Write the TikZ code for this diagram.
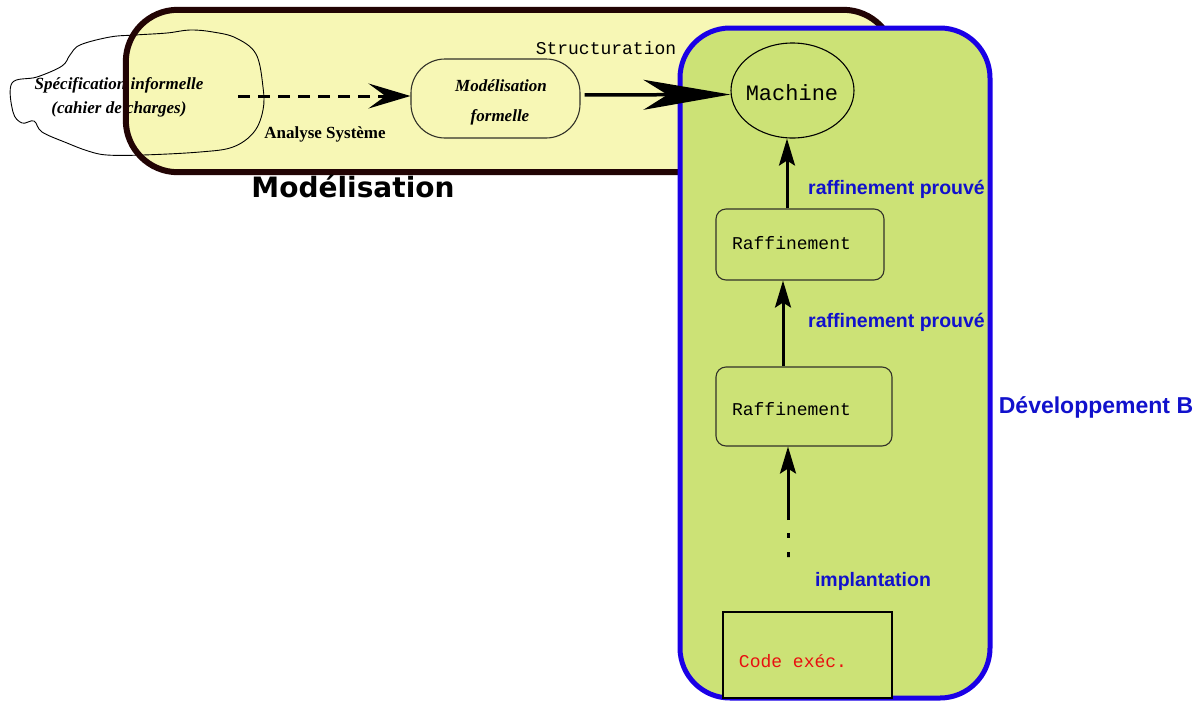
\documentclass[tikz,border=0pt]{standalone}
\usepackage{fontspec}
\setmainfont{Liberation Serif}
\setsansfont{Liberation Sans}
\setmonofont{Liberation Mono}
\newfontfamily\djv{DejaVu Sans}
\usetikzlibrary{arrows.meta,shapes.geometric}
\definecolor{yfill}{RGB}{247,247,181}
\definecolor{ystroke}{RGB}{34,4,4}
\definecolor{gfill}{RGB}{204,226,118}
\definecolor{bstroke}{RGB}{26,0,230}
\definecolor{btext}{RGB}{17,17,204}
\definecolor{rtext}{RGB}{232,16,16}
\definecolor{boxline}{RGB}{50,50,40}
\tikzset{
  serifbi/.style={font=\fontsize{17}{24}\selectfont\bfseries\itshape, align=center, inner sep=0pt},
  serifb/.style={font=\fontsize{17}{20}\selectfont\bfseries, inner sep=0pt},
  tt/.style={font=\fontsize{18}{20}\selectfont\ttfamily, inner sep=0pt},
  bluelbl/.style={font=\fontsize{19.5}{22}\selectfont\sffamily\bfseries, text=btext, inner sep=0pt},
  rbox/.style={draw=boxline, line width=1.1pt, rounded corners=10pt, fill=gfill, inner sep=0pt},
  varrow/.style={line width=3pt, -{Stealth[length=27pt,width=16pt,inset=5pt]}},
}
\begin{document}
\begin{tikzpicture}[x=1pt,y=-1pt]
\useasboundingbox (0,0) rectangle (1203,702);
% Modelisation box fill
\node[fill=yfill, rounded corners=52pt, minimum width=769pt, minimum height=162pt, inner sep=0pt] (modbox) at (510.5,91) {};
% cloud
\draw[line width=0.9pt] plot[smooth cycle, tension=0.6] coordinates {(12,83) (37,77) (62,66) (70,55) (80,45) (110,37) (135,35) (167,33) (190,30) (213,32) (236,38) (256,54) (263,87) (263,110) (254,132) (233,147) (200,152) (143,155) (107,155) (88,151) (67,143) (42,132) (34,121) (22,123) (13,112)};
\node[serifbi] (spec) at (119,97) {Spécification informelle\\(cahier de charges)};
% Modelisation box border
\draw[ystroke, line width=6pt, rounded corners=52pt] (modbox.north west) rectangle (modbox.south east);
% Developpement B box
\node[fill=gfill, draw=bstroke, line width=5pt, rounded corners=50pt, minimum width=310pt, minimum height=670pt, inner sep=0pt] (devbox) at (835,363) {};
% nodes
\node[draw=boxline, line width=1.1pt, rounded corners=34pt, minimum width=169pt, minimum height=79pt, inner sep=0pt] (mf) at (495.5,98.5) {};
\node[serifbi] (mft) at (501,86) {Modélisation};
\node[serifbi] (mfb) at (500,117) {formelle};
\node[ellipse, draw=black, line width=1.1pt, fill=gfill, minimum width=123pt, minimum height=95pt, inner sep=0pt] (machine) at (792.5,90.5) {};
\node[font=\fontsize{22}{24}\selectfont\ttfamily, inner sep=0pt] (machinet) at (792,93) {Machine};
\node[rbox, minimum width=168pt, minimum height=71pt] (r1) at (800,244.5) {};
\node[tt] (r1t) at (791.5,243) {Raffinement};
\node[rbox, minimum width=176pt, minimum height=79pt] (r2) at (804,406.5) {};
\node[tt] (r2t) at (791.5,409) {Raffinement};
\node[draw=black, line width=1.1pt, fill=gfill, minimum width=169pt, minimum height=86pt, inner sep=0pt] (code) at (807.5,655) {};
\node[tt, text=rtext] (codet) at (793,661) {Code exéc.};
% labels
\node[serifb] (analyse) at (325,134) {Analyse Système};
\node[tt] (struct) at (606,48) {Structuration};
\node[font=\fontsize{28}{30}\selectfont\djv\bfseries, inner sep=0pt] (modlbl) at (353,186) {Modélisation};
\node[bluelbl] (rp1) at (896.5,189) {raffinement prouvé};
\node[bluelbl] (rp2) at (896.5,322) {raffinement prouvé};
\node[bluelbl] (impl) at (873,581) {implantation};
\node[font=\fontsize{23}{25}\selectfont\sffamily\bfseries, text=btext, inner sep=0pt] (devlbl) at (1096,407) {Développement B};
% connectors
\coordinate (dstart) at (238,96);
\draw[line width=3pt, dash pattern=on 12pt off 8pt, -{Stealth[length=42pt,width=25pt,inset=17pt]}] (dstart) -- (dstart -| mf.west);
\draw[line width=3.5pt, shorten <=4pt, -{Stealth[length=87pt,width=30pt,inset=24pt]}] ([yshift=3.5pt]mf.east) -- ([yshift=-4pt]machine.west);
\draw[varrow] ([xshift=-13pt]r1.north) -- ([xshift=-5.5pt]machine.south);
\draw[varrow] ([xshift=-21pt]r2.north) -- ([xshift=-17pt]r1.south);
\coordinate (dA) at (788,520);
\coordinate (dB) at (788,557);
\draw[varrow] (dA) -- ([xshift=-16pt]r2.south);
\draw[line width=3pt, dash pattern=on 0pt off 13pt on 5pt off 14pt on 5pt] (dA) -- (dB);
\end{tikzpicture}
\end{document}
